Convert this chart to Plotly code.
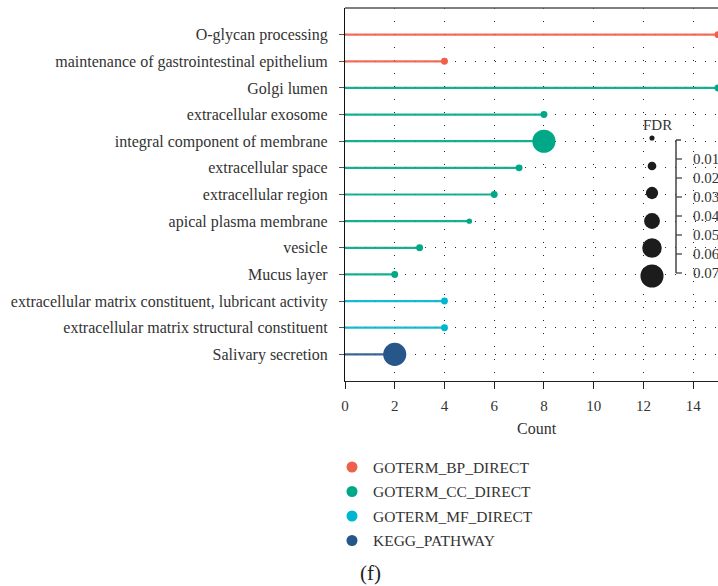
import plotly.graph_objects as go

# Enrichment terms, top to bottom
terms = [
    "O-glycan processing",
    "maintenance of gastrointestinal epithelium",
    "Golgi lumen",
    "extracellular exosome",
    "integral component of membrane",
    "extracellular space",
    "extracellular region",
    "apical plasma membrane",
    "vesicle",
    "Mucus layer",
    "extracellular matrix constituent, lubricant activity",
    "extracellular matrix structural constituent",
    "Salivary secretion",
]
categories = [
    "GOTERM_BP_DIRECT", "GOTERM_BP_DIRECT",
    "GOTERM_CC_DIRECT", "GOTERM_CC_DIRECT", "GOTERM_CC_DIRECT", "GOTERM_CC_DIRECT",
    "GOTERM_CC_DIRECT", "GOTERM_CC_DIRECT", "GOTERM_CC_DIRECT", "GOTERM_CC_DIRECT",
    "GOTERM_MF_DIRECT", "GOTERM_MF_DIRECT",
    "KEGG_PATHWAY",
]
counts = [15, 4, 15, 8, 8, 7, 6, 5, 3, 2, 4, 4, 2]
fdr = [0.015, 0.015, 0.015, 0.015, 0.06, 0.015, 0.015, 0.011, 0.015, 0.015, 0.015, 0.015, 0.06]

category_order = ["GOTERM_BP_DIRECT", "GOTERM_CC_DIRECT", "GOTERM_MF_DIRECT", "KEGG_PATHWAY"]
category_colors = ["#EF5F4B", "#00A887", "#00B5CE", "#27568B"]

x_ticks = [0, 2, 4, 6, 8, 10, 12, 14]
fdr_legend_circles = [0.01, 0.02, 0.03, 0.04, 0.05, 0.06]
fdr_legend_ticks = [0.01, 0.02, 0.03, 0.04, 0.05, 0.06, 0.07]

W, H = 718, 586
L, R, T, B = 345, 718, 8, 381
FONT = "Liberation Serif"
TXT = "#333333"


def size_of(f):
    return 1.5 + 360 * f


def px(x):
    return (x - L) / (R - L)


def py(y):
    return (B - y) / (B - T)


def label(text, x, y, size, xanchor="center", color=TXT):
    return dict(text=text, x=px(x), y=py(y), xref="paper", yref="paper",
                xanchor=xanchor, yanchor="middle", showarrow=False,
                font=dict(family=FONT, size=size, color=color))


fig = go.Figure()

for cat, col in zip(category_order, category_colors):
    idx = [i for i, c in enumerate(categories) if c == cat]
    xs, ys = [], []
    for i in idx:
        xs += [0, counts[i], None]
        ys += [terms[i], terms[i], None]
    fig.add_trace(go.Scatter(x=xs, y=ys, mode="lines", line=dict(color=col, width=2.2),
                             opacity=0.9, showlegend=False, hoverinfo="skip", cliponaxis=False))
    fig.add_trace(go.Scatter(
        x=[counts[i] for i in idx], y=[terms[i] for i in idx], mode="markers",
        marker=dict(color=col, size=[size_of(fdr[i]) for i in idx], line=dict(width=0), opacity=1),
        name=cat, showlegend=False, cliponaxis=False))

shapes = [dict(type="line", xref="paper", yref="paper", x0=0, x1=1, y0=1, y1=1,
               line=dict(color="#555", width=1.5))]
annotations = []

# FDR size legend
annotations.append(label("FDR", 657, 125, 15))
circle_y = [138, 166, 193, 221, 248, 276]
for f, cy in zip(fdr_legend_circles, circle_y):
    r = size_of(f) / 2
    shapes.append(dict(type="circle", xref="paper", yref="paper", xsizemode="pixel", ysizemode="pixel",
                       xanchor=px(652), yanchor=py(cy), x0=-r, x1=r, y0=-r, y1=r,
                       fillcolor="#1c1c1c", line=dict(width=0)))


def fdr_y(f):
    return 140 + f * 1900


bar_x = 676
shapes.append(dict(type="line", xref="paper", yref="paper", x0=px(bar_x), x1=px(bar_x),
                   y0=py(fdr_y(0)), y1=py(fdr_y(0.07)), line=dict(color="#444", width=1.5)))
shapes.append(dict(type="line", xref="paper", yref="paper", x0=px(bar_x), x1=px(bar_x + 5),
                   y0=py(fdr_y(0)), y1=py(fdr_y(0)), line=dict(color="#444", width=1.5)))
for f in fdr_legend_ticks:
    shapes.append(dict(type="line", xref="paper", yref="paper", x0=px(bar_x), x1=px(bar_x + 6),
                       y0=py(fdr_y(f)), y1=py(fdr_y(f)), line=dict(color="#444", width=1.3)))
    annotations.append(label(f"{f:.2f}", 691, fdr_y(f), 15, xanchor="left"))

# Category legend
for k, (cat, col) in enumerate(zip(category_order, category_colors)):
    cy = 467 + 24.5 * k
    shapes.append(dict(type="circle", xref="paper", yref="paper", xsizemode="pixel", ysizemode="pixel",
                       xanchor=px(352), yanchor=py(cy), x0=-5.5, x1=5.5, y0=-5.5, y1=5.5,
                       fillcolor=col, line=dict(width=0)))
    annotations.append(label(cat, 371, cy, 15.5, xanchor="left"))

annotations.append(label("Count", 537, 428, 16))
annotations.append(label("(f)", 370, 573, 21, color="#222"))

fig.update_layout(
    width=W, height=H,
    margin=dict(l=L, r=W - R, t=T, b=H - B, pad=0),
    paper_bgcolor="white", plot_bgcolor="white",
    showlegend=False,
    shapes=shapes, annotations=annotations,
    xaxis=dict(range=[0, 15], tickvals=x_ticks, showline=True, linecolor="#222", linewidth=1.3,
               ticks="outside", ticklen=7, tickwidth=1.3, tickcolor="#222",
               tickfont=dict(family=FONT, size=15, color=TXT), zeroline=False,
               showgrid=True, gridcolor="#222", gridwidth=1.4, griddash="1.4px,11.6px",
               ticklabelstandoff=4),
    yaxis=dict(type="category", categoryorder="array", categoryarray=terms,
               range=[len(terms), -1], showline=True, linecolor="#111", linewidth=1.3,
               ticks="outside", ticklen=5, tickwidth=1.2, tickcolor="#555",
               tickfont=dict(family=FONT, size=16, color=TXT), zeroline=False,
               showgrid=True, gridcolor="#222", gridwidth=1.4, griddash="1.4px,8.6px",
               ticklabelstandoff=8),
)

fig.write_html("out.html")
